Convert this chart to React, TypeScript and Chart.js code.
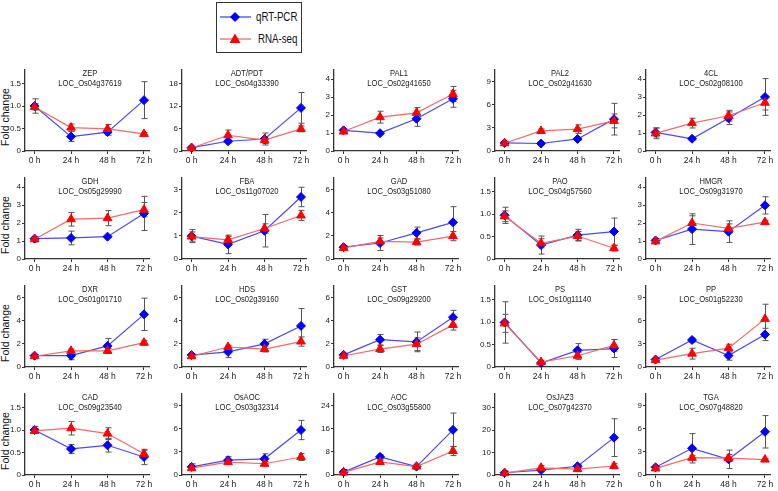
import React, { useEffect, useRef } from 'react';
import { Chart, registerables } from 'chart.js';
Chart.register(...registerables);

const FONT = "'Liberation Sans', Arial, Helvetica, sans-serif";

const timePoints = [0, 24, 48, 72];
const timeLabels = ['0 h', '24 h', '48 h', '72 h'];

const genes = ['ZEP', 'ADT/PDT', 'PAL1', 'PAL2', '4CL', 'GDH', 'FBA', 'GAD', 'PAO', 'HMGR', 'DXR', 'HDS', 'GST', 'PS', 'PP', 'CAD', 'OsAOC', 'AOC', 'OsJAZ3', 'TGA'];
const loci = ['LOC_Os04g37619', 'LOC_Os04g33390', 'LOC_Os02g41650', 'LOC_Os02g41630', 'LOC_Os02g08100', 'LOC_Os05g29990', 'LOC_Os11g07020', 'LOC_Os03g51080', 'LOC_Os04g57560', 'LOC_Os09g31970', 'LOC_Os01g01710', 'LOC_Os02g39160', 'LOC_Os09g29200', 'LOC_Os10g11140', 'LOC_Os01g52230', 'LOC_Os09g23540', 'LOC_Os03g32314', 'LOC_Os03g55800', 'LOC_Os07g42370', 'LOC_Os07g48820'];

const qpcrMean = [
  [1.0, 0.32, 0.42, 1.13],
  [0.9, 2.6, 3.2, 11.5],
  [1.15, 0.99, 1.79, 2.9],
  [1.05, 0.97, 1.56, 4.13],
  [1.03, 0.68, 1.82, 3.0],
  [1.13, 1.17, 1.24, 2.53],
  [0.99, 0.63, 1.22, 2.68],
  [1.02, 1.38, 2.26, 3.17],
  [0.97, 0.31, 0.53, 0.61],
  [1.03, 1.66, 1.52, 2.98],
  [0.98, 0.98, 1.82, 4.55],
  [1.03, 1.31, 2.0, 3.55],
  [1.05, 2.36, 2.17, 4.3],
  [0.99, 0.09, 0.37, 0.41],
  [0.97, 3.5, 1.48, 4.22],
  [1.0, 0.58, 0.66, 0.4],
  [1.05, 1.92, 2.1, 5.83],
  [1.0, 6.27, 2.9, 15.6],
  [1.0, 2.2, 3.9, 16.6],
  [1.0, 3.46, 2.03, 5.6],
];
const qpcrSd = [
  [0.16, 0.11, 0.07, 0.41],
  [0.3, 0.5, 1.6, 4.1],
  [0.07, 0.06, 0.42, 0.47],
  [0.2, 0.15, 0.2, 2.05],
  [0.25, 0.06, 0.35, 1.02],
  [0.12, 0.38, 0.07, 0.95],
  [0.28, 0.4, 0.7, 0.42],
  [0.15, 0.65, 0.5, 1.35],
  [0.18, 0.2, 0.13, 0.3],
  [0.1, 0.85, 0.6, 0.48],
  [0.1, 0.35, 0.65, 1.4],
  [0.1, 0.5, 0.4, 1.5],
  [0.1, 0.45, 0.85, 0.6],
  [0.46, 0.03, 0.15, 0.2],
  [0.2, 0.25, 0.6, 0.8],
  [0.08, 0.1, 0.15, 0.17],
  [0.4, 0.45, 0.65, 1.25],
  [0.9, 0.8, 0.4, 5.8],
  [0.8, 0.8, 0.8, 8.4],
  [0.2, 1.9, 1.2, 2.1],
];
const rnaMean = [
  [0.98, 0.52, 0.49, 0.38],
  [0.8, 4.2, 2.9, 5.9],
  [1.08, 1.88, 2.12, 3.17],
  [1.0, 2.6, 2.83, 3.9],
  [0.98, 1.55, 1.96, 2.68],
  [1.1, 2.21, 2.27, 2.74],
  [0.97, 0.83, 1.32, 1.88],
  [0.96, 1.52, 1.46, 1.98],
  [0.95, 0.35, 0.51, 0.24],
  [0.98, 2.0, 1.7, 2.05],
  [0.93, 1.4, 1.4, 2.1],
  [0.93, 1.73, 1.55, 2.2],
  [0.97, 1.55, 1.97, 3.64],
  [0.97, 0.11, 0.25, 0.48],
  [0.9, 1.73, 2.45, 6.24],
  [0.98, 1.04, 0.92, 0.47],
  [0.88, 1.67, 1.46, 2.33],
  [0.9, 4.5, 2.9, 8.3],
  [0.8, 3.2, 2.6, 4.0],
  [0.85, 2.24, 2.2, 2.0],
];
const rnaSd = [
  [0.07, 0.08, 0.1, 0.03],
  [0.3, 1.4, 0.9, 0.8],
  [0.07, 0.33, 0.3, 0.42],
  [0.25, 0.25, 0.55, 0.9],
  [0.3, 0.27, 0.3, 0.4],
  [0.15, 0.38, 0.42, 0.4],
  [0.2, 0.15, 0.2, 0.22],
  [0.1, 0.3, 0.25, 0.4],
  [0.12, 0.1, 0.1, 0.06],
  [0.08, 0.4, 0.25, 0.1],
  [0.12, 0.15, 0.2, 0.2],
  [0.1, 0.15, 0.25, 0.4],
  [0.1, 0.3, 0.55, 0.45],
  [0.2, 0.04, 0.08, 0.13],
  [0.2, 0.7, 0.5, 1.9],
  [0.05, 0.15, 0.13, 0.08],
  [0.2, 0.2, 0.3, 0.45],
  [0.5, 0.6, 0.6, 1.6],
  [0.5, 1.0, 0.8, 1.2],
  [0.2, 0.3, 0.45, 0.15],
];
const yMax = [1.8, 21.6, 4.5, 10.5, 4.5, 4.5, 3.5, 7, 1.8, 4.5, 7, 7, 7, 1.8, 10.5, 1.8, 10.5, 28, 36, 10.5];
const yStep = [0.5, 6, 1, 3, 1, 1, 1, 2, 0.5, 1, 2, 2, 2, 0.5, 3, 0.5, 3, 8, 10, 3];

// layout
const COL_X = [25, 182, 334, 495, 646];
const ROW_TOP = [68, 176, 284, 392];
const PLOT_W = 124;
const PLOT_H = 83;
const Y_AX_W = 30;
const X_AX_H = 18;
const PAD_T = 4;
const PAD_R = 14;
const X_MIN = -6.3;
const X_MAX = 75.3;

const BLUE = '#0000ff';
const BLUE_LINE = '#4a4aee';
const RED = '#ff0000';
const RED_LINE = '#f06a6a';
const AXIS = '#333333';
const TEXT = '#222222';

const errorBarPlugin = {
  id: 'errorBars',
  beforeDatasetsDraw(chart: any) {
    const { ctx } = chart;
    const xs = chart.scales.x;
    const ys = chart.scales.y;
    chart.data.datasets.forEach((ds: any) => {
      const errs: number[] = ds.errors || [];
      ctx.save();
      ctx.strokeStyle = '#555555';
      ctx.lineWidth = 1;
      ds.data.forEach((p: any, k: number) => {
        const e = errs[k] || 0;
        const px = Math.round(xs.getPixelForValue(p.x)) + 0.5;
        const top = ys.getPixelForValue(p.y + e);
        const bot = ys.getPixelForValue(Math.max(0, p.y - e));
        ctx.beginPath();
        ctx.moveTo(px, top);
        ctx.lineTo(px, bot);
        ctx.moveTo(px - 3, top);
        ctx.lineTo(px + 3, top);
        ctx.moveTo(px - 3, bot);
        ctx.lineTo(px + 3, bot);
        ctx.stroke();
      });
      ctx.restore();
    });
  },
};

function Panel({ i }: { i: number }) {
  const ref = useRef<HTMLCanvasElement>(null);
  const col = i % 5;
  const row = Math.floor(i / 5);
  const W = Y_AX_W + PLOT_W + PAD_R;
  const H = PAD_T + PLOT_H + X_AX_H;
  useEffect(() => {
    const yTicks: number[] = [];
    for (let v = 0; v <= yMax[i] + 1e-9; v += yStep[i]) yTicks.push(+v.toFixed(3));
    const dec = yStep[i] < 1;
    const tickFont = { family: FONT, size: 8 };
    const chart = new Chart(ref.current as HTMLCanvasElement, {
      type: 'line',
      data: {
        datasets: [
          {
            label: 'RNA-seq',
            data: timePoints.map((t, k) => ({ x: t, y: rnaMean[i][k] })),
            errors: rnaSd[i],
            borderColor: RED_LINE,
            backgroundColor: RED,
            pointBackgroundColor: RED,
            pointBorderColor: RED,
            pointStyle: 'triangle',
            pointRadius: 5,
            pointBorderWidth: 1,
            borderWidth: 1.2,
            order: 0,
            clip: false,
          } as any,
          {
            label: 'qRT-PCR',
            data: timePoints.map((t, k) => ({ x: t, y: qpcrMean[i][k] })),
            errors: qpcrSd[i],
            borderColor: BLUE_LINE,
            backgroundColor: BLUE,
            pointBackgroundColor: BLUE,
            pointBorderColor: BLUE,
            pointStyle: 'rectRot',
            pointRadius: 4.5,
            pointBorderWidth: 1,
            borderWidth: 1.2,
            order: 1,
            clip: false,
          } as any,
        ],
      },
      options: {
        animation: false,
        responsive: false,
        devicePixelRatio: 1,
        layout: { padding: { top: PAD_T, right: PAD_R, left: 0, bottom: 0 } },
        plugins: { legend: { display: false }, tooltip: { enabled: false } },
        scales: {
          x: {
            type: 'linear',
            min: X_MIN,
            max: X_MAX,
            afterBuildTicks: (s: any) => {
              s.ticks = timePoints.map((v) => ({ value: v }));
            },
            afterFit: (s: any) => {
              s.height = X_AX_H;
            },
            ticks: {
              callback: (v: any) => timeLabels[timePoints.indexOf(Number(v))],
              font: { family: FONT, size: 8.5 },
              color: TEXT,
              padding: 2,
              maxRotation: 0,
              autoSkip: false,
            },
            grid: { drawOnChartArea: false, drawTicks: true, tickLength: 3, color: AXIS, lineWidth: 1 },
            border: { color: AXIS, width: 1.3 },
          },
          y: {
            type: 'linear',
            min: 0,
            max: yMax[i],
            afterBuildTicks: (s: any) => {
              s.ticks = yTicks.map((v) => ({ value: v }));
            },
            afterFit: (s: any) => {
              s.width = Y_AX_W;
            },
            ticks: {
              callback: (v: any) => (Number(v) === 0 ? '0' : dec ? Number(v).toFixed(1) : String(v)),
              font: tickFont,
              color: TEXT,
              padding: 1,
            },
            grid: { drawOnChartArea: false, drawTicks: true, tickLength: 3, color: AXIS, lineWidth: 1 },
            border: { color: AXIS, width: 1.3 },
          },
        },
      } as any,
      plugins: [errorBarPlugin],
    });
    return () => chart.destroy();
  }, [i]);
  const left = COL_X[col];
  const top = ROW_TOP[row];
  const titleStyle: any = {
    position: 'absolute',
    left: left + PLOT_W / 2 + 3 - 60,
    width: 120,
    textAlign: 'center',
    fontFamily: FONT,
    fontSize: 9.5,
    lineHeight: '10px',
    color: TEXT,
    whiteSpace: 'nowrap',
    transform: 'scaleX(0.8)',
    transformOrigin: 'center',
  };
  return (
    <>
      <canvas
        ref={ref}
        width={W}
        height={H}
        style={{ position: 'absolute', left: left - Y_AX_W, top: top - PAD_T, width: W, height: H }}
      />
      <div style={{ ...titleStyle, top: top - 0.5 }}>{genes[i]}</div>
      <div style={{ ...titleStyle, top: top + 10.3 }}>{loci[i]}</div>
    </>
  );
}

function Legend() {
  const txt: any = {
    position: 'absolute',
    fontSize: 13.5,
    lineHeight: '18px',
    whiteSpace: 'nowrap',
    transform: 'scaleX(0.72)',
    transformOrigin: 'left center',
  };
  return (
    <div
      style={{
        position: 'absolute',
        left: 216,
        top: 2,
        width: 84,
        height: 49,
        border: '1px solid #333',
        background: '#fff',
        fontFamily: FONT,
        color: '#111',
      }}
    >
      <svg width={40} height={49} style={{ position: 'absolute', left: 0, top: 0 }}>
        <line x1={3} y1={14} x2={34} y2={14} stroke={BLUE_LINE} strokeWidth={1.3} />
        <polygon points="18,9 23,14 18,19 13,14" fill={BLUE} />
        <line x1={3} y1={36} x2={34} y2={36} stroke={RED_LINE} strokeWidth={1.3} />
        <polygon points="18,30.5 23.5,40 12.5,40" fill={RED} />
      </svg>
      <div style={{ ...txt, left: 39, top: 5 }}>qRT-PCR</div>
      <div style={{ ...txt, left: 41, top: 27 }}>RNA-seq</div>
    </div>
  );
}

export default function App() {
  return (
    <div style={{ position: 'fixed', left: 0, top: 0, width: 778, height: 491, background: '#fff', overflow: 'hidden' }}>
      <Legend />
      {ROW_TOP.map((t, r) => (
        <div
          key={'fc' + r}
          style={{
            position: 'absolute',
            left: 4.5 - 50,
            top: t + 49 - 6,
            width: 100,
            height: 12,
            lineHeight: '12px',
            textAlign: 'center',
            fontFamily: FONT,
            fontSize: 10.5,
            color: '#111',
            transform: 'rotate(-90deg)',
            whiteSpace: 'nowrap',
          }}
        >
          Fold change
        </div>
      ))}
      {genes.map((g, i) => (
        <Panel key={g} i={i} />
      ))}
    </div>
  );
}
